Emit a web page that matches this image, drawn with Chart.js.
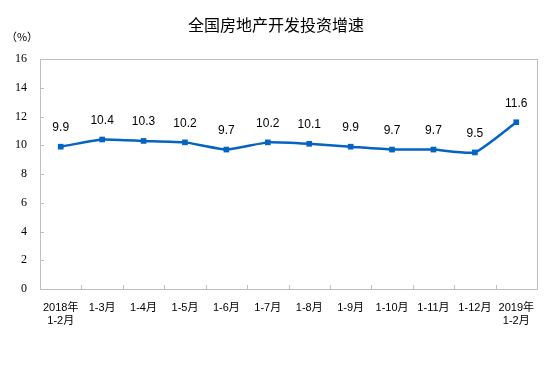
<!DOCTYPE html>
<html>
<head>
<meta charset="utf-8">
<script src="https://cdn.jsdelivr.net/npm/chart.js@4/dist/chart.umd.min.js"></script>
<style>
html, body { margin: 0; padding: 0; background: #fff; }
canvas { display: block; }
</style>
</head>
<body>
<canvas id="chart" width="554" height="367"></canvas>
<script>
const title = "全国房地产开发投资增速"
const unitLabel = "（%）"

const categories = [
    ["2018年", "1-2月"], "1-3月", "1-4月", "1-5月", "1-6月", "1-7月",
    "1-8月", "1-9月", "1-10月", "1-11月", "1-12月", ["2019年", "1-2月"]
]
const growth = [9.9, 10.4, 10.3, 10.2, 9.7, 10.2, 10.1, 9.9, 9.7, 9.7, 9.5, 11.6]

const yMin = 0
const yMax = 16
const yStep = 2

const lineColor = "#0563C1"
const frameColor = "#BFBFBF"


// title, unit, frame, inward ticks and point labels
const decorations = {
    id: "decorations",
    afterDraw(chart) {
        const ctx = chart.ctx
        const area = chart.chartArea
        const x = chart.scales.x
        const y = chart.scales.y

        ctx.save()

        ctx.fillStyle = "#000"
        ctx.textAlign = "center"
        ctx.textBaseline = "middle"
        ctx.font = "16px 'Noto Sans CJK SC'"
        ctx.fillText(title, 276, 25)

        ctx.font = "11px 'Noto Sans CJK SC'"
        ctx.fillText(unitLabel, 22, 37)

        ctx.strokeStyle = frameColor
        ctx.lineWidth = 1
        ctx.strokeRect(Math.round(area.left) + 0.5, Math.round(area.top) + 0.5,
            Math.round(area.right - area.left), Math.round(area.bottom - area.top))

        ctx.beginPath()
        y.ticks.forEach(t => {
            const py = Math.round(y.getPixelForValue(t.value)) + 0.5
            ctx.moveTo(area.left, py)
            ctx.lineTo(area.left + 4, py)
        })
        for (let i = 1; i < categories.length; i++) {
            const px = Math.round((x.getPixelForValue(i - 1) + x.getPixelForValue(i)) / 2) + 0.5
            ctx.moveTo(px, area.bottom)
            ctx.lineTo(px, area.bottom - 4)
        }
        ctx.stroke()

        const meta = chart.getDatasetMeta(0)
        ctx.font = "12px 'Liberation Sans', Arial"
        ctx.fillStyle = "#000"
        meta.data.forEach((pt, i) => {
            ctx.fillText(growth[i].toFixed(1), pt.x, pt.y - 19)
        })

        ctx.restore()
    }
}


new Chart(document.getElementById("chart"), {
    type: "line",
    data: {
        labels: categories,
        datasets: [{
            data: growth,
            borderColor: lineColor,
            backgroundColor: lineColor,
            borderWidth: 2.5,
            tension: 0.15,
            pointStyle: "rect",
            pointRadius: 4,
            pointHoverRadius: 4,
            pointBorderWidth: 0
        }]
    },
    options: {
        responsive: false,
        animation: false,
        layout: {
            padding: { top: 59, right: 17, left: 0, bottom: 0 }
        },
        plugins: {
            legend: { display: false },
            tooltip: { enabled: false }
        },
        scales: {
            x: {
                offset: true,
                grid: { display: false, drawTicks: false },
                border: { display: false },
                ticks: {
                    color: "#000",
                    padding: 12,
                    maxRotation: 0,
                    autoSkip: false,
                    font: { family: "'Liberation Sans', 'Noto Sans CJK SC'", size: 11 }
                },
                afterFit(scale) { scale.height = 78 }
            },
            y: {
                min: yMin,
                max: yMax,
                grid: { display: false, drawTicks: false },
                border: { display: false },
                ticks: {
                    stepSize: yStep,
                    color: "#000",
                    padding: 13,
                    font: { family: "'Liberation Serif'", size: 12 }
                },
                afterFit(scale) { scale.width = 40 }
            }
        }
    },
    plugins: [decorations]
})
</script>
</body>
</html>
